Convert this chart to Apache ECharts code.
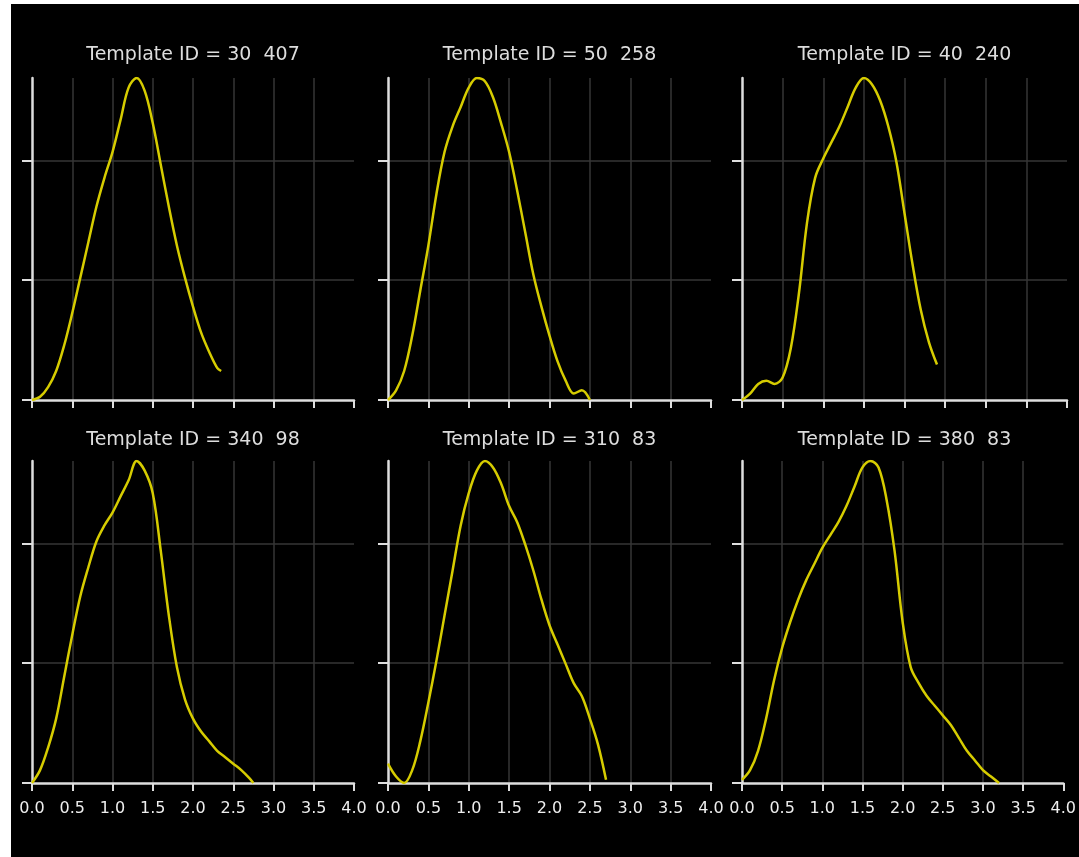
<!DOCTYPE html>
<html>
<head>
<meta charset="utf-8">
<script src="https://cdn.jsdelivr.net/npm/echarts@6/dist/echarts.min.js"></script>
<style>
  html, body { margin: 0; padding: 0; background: #ffffff; }
  #chart { position: absolute; left: 11px; top: 4px; width: 1068px; height: 853px; background: #000; }
</style>
</head>
<body>
<div id="chart"></div>
<script>
// panel titles (row by row)
const titles = [
  'Template ID = 30  407', 'Template ID = 50  258', 'Template ID = 40  240',
  'Template ID = 340  98', 'Template ID = 310  83', 'Template ID = 380  83'
];
const xTickLabels = ['0.0', '0.5', '1.0', '1.5', '2.0', '2.5', '3.0', '3.5', '4.0'];
// y gridlines (no labels in the original)
const yTicks = [0, 0.372, 0.744];

// density curves, y scaled so that each peak = 1
const x30 = [0, 0.1, 0.2, 0.3, 0.4, 0.5, 0.6, 0.7, 0.8, 0.9, 1.0, 1.1, 1.2, 1.3, 1.4, 1.5, 1.6, 1.7, 1.8, 1.9, 2.0, 2.1, 2.2, 2.3, 2.35];
const y30 = [0, 0.01, 0.04, 0.09, 0.17, 0.27, 0.38, 0.49, 0.60, 0.69, 0.77, 0.87, 0.97, 1.0, 0.96, 0.86, 0.73, 0.60, 0.48, 0.38, 0.29, 0.21, 0.15, 0.10, 0.09];

const x50 = [0, 0.1, 0.2, 0.3, 0.4, 0.5, 0.6, 0.7, 0.8, 0.9, 1.0, 1.1, 1.2, 1.3, 1.4, 1.5, 1.6, 1.7, 1.8, 1.9, 2.0, 2.1, 2.2, 2.3, 2.4, 2.5];
const y50 = [0, 0.03, 0.09, 0.2, 0.34, 0.48, 0.64, 0.77, 0.85, 0.91, 0.97, 1.0, 0.99, 0.94, 0.86, 0.77, 0.65, 0.52, 0.39, 0.29, 0.2, 0.12, 0.06, 0.02, 0.03, 0.0];

const x40 = [0, 0.1, 0.2, 0.3, 0.4, 0.5, 0.6, 0.7, 0.8, 0.9, 1.0, 1.1, 1.2, 1.3, 1.4, 1.5, 1.6, 1.7, 1.8, 1.9, 2.0, 2.1, 2.2, 2.3, 2.4];
const y40 = [0, 0.02, 0.05, 0.06, 0.05, 0.07, 0.16, 0.33, 0.55, 0.69, 0.75, 0.80, 0.85, 0.91, 0.97, 1.0, 0.98, 0.93, 0.85, 0.74, 0.58, 0.42, 0.28, 0.18, 0.11];

const x340 = [0, 0.1, 0.2, 0.3, 0.4, 0.5, 0.6, 0.7, 0.8, 0.9, 1.0, 1.1, 1.2, 1.3, 1.4, 1.5, 1.6, 1.7, 1.8, 1.9, 2.0, 2.1, 2.2, 2.3, 2.4, 2.5, 2.6, 2.7, 2.75];
const y340 = [0, 0.04, 0.11, 0.2, 0.33, 0.46, 0.58, 0.67, 0.75, 0.80, 0.84, 0.89, 0.94, 1.0, 0.97, 0.9, 0.72, 0.52, 0.36, 0.26, 0.2, 0.16, 0.13, 0.10, 0.08, 0.06, 0.04, 0.015, 0];

const x310 = [0, 0.1, 0.2, 0.3, 0.4, 0.5, 0.6, 0.7, 0.8, 0.9, 1.0, 1.1, 1.2, 1.3, 1.4, 1.5, 1.6, 1.7, 1.8, 1.9, 2.0, 2.1, 2.2, 2.3, 2.4, 2.5, 2.6, 2.7];
const y310 = [0.06, 0.02, 0.0, 0.04, 0.13, 0.25, 0.38, 0.52, 0.66, 0.80, 0.90, 0.97, 1.0, 0.98, 0.93, 0.86, 0.81, 0.74, 0.66, 0.57, 0.49, 0.43, 0.37, 0.31, 0.27, 0.2, 0.12, 0.01];

const x380 = [0, 0.1, 0.2, 0.3, 0.4, 0.5, 0.6, 0.7, 0.8, 0.9, 1.0, 1.1, 1.2, 1.3, 1.4, 1.5, 1.6, 1.7, 1.8, 1.9, 2.0, 2.1, 2.2, 2.3, 2.4, 2.5, 2.6, 2.7, 2.8, 2.9, 3.0, 3.1, 3.2];
const y380 = [0.01, 0.04, 0.1, 0.2, 0.32, 0.42, 0.5, 0.57, 0.63, 0.68, 0.73, 0.77, 0.81, 0.86, 0.92, 0.98, 1.0, 0.98, 0.88, 0.72, 0.5, 0.36, 0.31, 0.27, 0.24, 0.21, 0.18, 0.14, 0.1, 0.07, 0.04, 0.02, 0];

const curves = [[x30, y30], [x50, y50], [x40, y40], [x340, y340], [x310, y310], [x380, y380]];

const colLeft = [21, 377, 731];
const colWidth = [322, 323, 325];
const rowTop = [74, 457];
const rowTitleY = [51, 436];
const panelH = 322;

const axisColor = '#dedede';
const gridColor = '#363636';
const lineColor = '#d6cc00';

const chart = echarts.init(document.getElementById('chart'));

const grid = [], xAxis = [], yAxis = [], series = [], graphic = [];
for (let i = 0; i < 6; i++) {
  const r = Math.floor(i / 3), c = i % 3;
  grid.push({left: colLeft[c], top: rowTop[r], width: colWidth[c], height: panelH, containLabel: false});
  xAxis.push({
    type: 'value', gridIndex: i, min: 0, max: 4, interval: 0.5,
    axisLine: {show: true, onZero: false, lineStyle: {color: axisColor, width: 2.5}},
    axisTick: {show: true, length: 8, lineStyle: {color: axisColor, width: 2}},
    axisLabel: {
      show: r === 1, color: '#eeeeee', fontSize: 16, fontFamily: 'DejaVu Sans', margin: 18,
      showMinLabel: true, showMaxLabel: true,
      formatter: v => xTickLabels[Math.round(v / 0.5)]
    },
    splitLine: {show: true, showMinLine: false, showMaxLine: false, lineStyle: {color: gridColor, width: 1.5}}
  });
  yAxis.push({
    type: 'value', gridIndex: i, min: 0, max: 1,
    axisLine: {show: true, lineStyle: {color: axisColor, width: 2.5}},
    axisTick: {show: true, length: 10, customValues: yTicks, lineStyle: {color: axisColor, width: 2}},
    axisLabel: {show: false},
    splitLine: {show: true, showMinLine: false, showMaxLine: true, lineStyle: {color: gridColor, width: 1.5}}
  });
  const [xs, ys] = curves[i];
  series.push({
    type: 'line', xAxisIndex: i, yAxisIndex: i, smooth: 0.35,
    showSymbol: false, silent: true,
    lineStyle: {color: lineColor, width: 2.5},
    data: xs.map((x, k) => [x, ys[k]])
  });
  graphic.push({
    type: 'text', x: colLeft[c] + colWidth[c] / 2, y: rowTitleY[r],
    style: {
      text: titles[i], fill: '#dddddd', fontSize: 19, fontFamily: 'DejaVu Sans',
      align: 'center', verticalAlign: 'middle'
    }
  });
}

chart.setOption({
  backgroundColor: '#000000',
  animation: false,
  grid, xAxis, yAxis, series, graphic
});
</script>
</body>
</html>
